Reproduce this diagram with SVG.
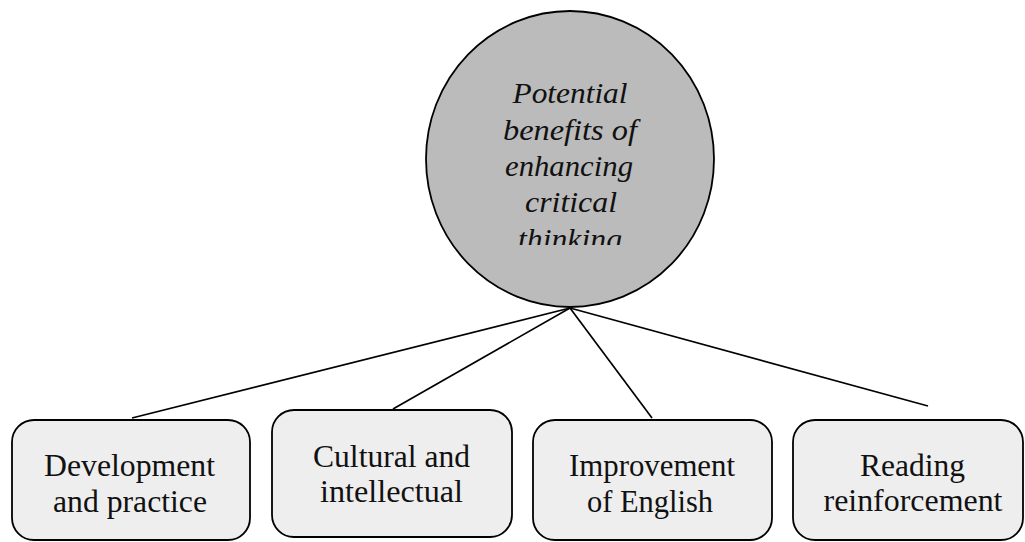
<svg xmlns="http://www.w3.org/2000/svg" width="1025" height="542" viewBox="0 0 1025 542">
  <style>
    .box { fill: #eeeeee; stroke: #000; stroke-width: 1.8; }
    .hub { fill: #bbbbbb; stroke: #000; stroke-width: 1.8; }
    .edge { stroke: #000; stroke-width: 1.7; fill: none; }
    .lbl { font-family: 'Liberation Serif', Tinos, 'Nimbus Roman', serif; font-size: 31px; fill: #111; text-anchor: middle; }
    .hubtxt { font-family: 'Liberation Serif', Tinos, 'Nimbus Roman', serif; font-style: italic; font-size: 28.5px; fill: #111; text-anchor: middle; }
  </style>
  <defs>
    <clipPath id="hubClip">
      <rect x="420" y="60" width="300" height="185"/>
    </clipPath>
  </defs>
  <rect width="1025" height="542" fill="#fff"/>

  <!-- connectors from the hub to each category -->
  <g id="connectors">
    <line class="edge" x1="570" y1="308" x2="132" y2="418"/>
    <line class="edge" x1="570" y1="308" x2="393" y2="409"/>
    <line class="edge" x1="570" y1="308" x2="652" y2="418"/>
    <line class="edge" x1="570" y1="308" x2="928" y2="406"/>
  </g>

  <g id="hub">
    <ellipse class="hub" cx="570" cy="159" rx="144" ry="148"/>
    <g clip-path="url(#hubClip)">
      <text class="hubtxt" x="570" y="103" textLength="115" lengthAdjust="spacingAndGlyphs">Potential</text>
      <text class="hubtxt" x="570" y="140" textLength="134" lengthAdjust="spacingAndGlyphs">benefits of</text>
      <text class="hubtxt" x="569" y="176" textLength="128" lengthAdjust="spacingAndGlyphs">enhancing</text>
      <text class="hubtxt" x="571" y="212" textLength="92" lengthAdjust="spacingAndGlyphs">critical</text>
      <text class="hubtxt" x="570" y="249" textLength="104" lengthAdjust="spacingAndGlyphs">thinking</text>
    </g>
  </g>

  <g id="node-development">
    <rect class="box" x="12" y="420" width="238" height="120" rx="22"/>
    <text class="lbl" x="129.5" y="476" textLength="171" lengthAdjust="spacingAndGlyphs">Development</text>
    <text class="lbl" x="130" y="512" textLength="154" lengthAdjust="spacingAndGlyphs">and practice</text>
  </g>

  <g id="node-cultural">
    <rect class="box" x="272" y="410" width="240" height="127" rx="22"/>
    <text class="lbl" x="391.5" y="467" textLength="157" lengthAdjust="spacingAndGlyphs">Cultural and</text>
    <text class="lbl" x="391.5" y="502" textLength="143" lengthAdjust="spacingAndGlyphs">intellectual</text>
  </g>

  <g id="node-english">
    <rect class="box" x="533" y="420" width="239" height="120" rx="22"/>
    <text class="lbl" x="652" y="476" textLength="166" lengthAdjust="spacingAndGlyphs">Improvement</text>
    <text class="lbl" x="650" y="512" textLength="126" lengthAdjust="spacingAndGlyphs">of English</text>
  </g>

  <g id="node-reading">
    <rect class="box" x="793" y="420" width="230" height="120" rx="22"/>
    <text class="lbl" x="912.5" y="476" textLength="105" lengthAdjust="spacingAndGlyphs">Reading</text>
    <text class="lbl" x="913" y="511" textLength="179" lengthAdjust="spacingAndGlyphs">reinforcement</text>
  </g>
</svg>
